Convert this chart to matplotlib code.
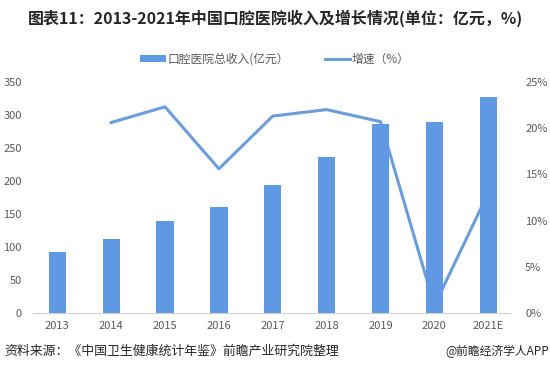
import numpy as np
import matplotlib.pyplot as plt

plt.rcParams['font.family'] = ['Noto Sans CJK SC', 'DejaVu Sans']

years = ['2013', '2014', '2015', '2016', '2017', '2018', '2019', '2020', '2021E']
revenue = [92, 112, 139, 161, 194, 236, 286, 289, 327]
growth_years = years[1:]
growth = [20.6, 22.3, 15.6, 21.3, 22.0, 20.7, 0.8, 13.0]

bar_color = '#5f98e3'
line_color = '#6c9ddb'
tick_color = '#595959'

fig = plt.figure(figsize=(5.5, 3.79), dpi=100)
ax = fig.add_axes([0.06, 0.174, 0.867, 0.61])
ax2 = ax.twinx()

x = np.arange(len(years))
ax.bar(x, revenue, width=0.32, color=bar_color, zorder=2, label='口腔医院总收入(亿元）')
gx = x[1:]
ax2.plot(gx, growth, color=line_color, lw=2.2, label='增速（%）', zorder=1)
ax.set_zorder(ax2.get_zorder() + 1)
ax.patch.set_visible(False)

ax.set_xlim(-0.45, 8.4)
ax.set_ylim(0, 350)
ax.set_yticks(np.arange(0, 351, 50))
ax2.set_ylim(0, 25)
ax2.set_yticks(np.arange(0, 26, 5))
ax2.set_yticklabels([f'{v}%' for v in range(0, 26, 5)])
ax.set_xticks(x)
ax.set_xticklabels(years)

for a in (ax, ax2):
    for s in a.spines.values():
        s.set_visible(False)
    a.tick_params(length=0, colors=tick_color, labelsize=8)
ax.spines['bottom'].set_visible(True)
ax.spines['bottom'].set_color('#d0d0d0')
ax.tick_params(axis='y', pad=8)
ax.tick_params(axis='x', pad=6)
ax2.tick_params(axis='y', pad=11)

h1, l1 = ax.get_legend_handles_labels()
h2, l2 = ax2.get_legend_handles_labels()
fig.legend(h1 + h2, l1 + l2, loc='center', bbox_to_anchor=(0.5, 0.843), ncol=2,
           frameon=False, fontsize=8.5, handlelength=2.2, handleheight=0.5,
           columnspacing=3.0, handletextpad=0.1, labelcolor=tick_color)

fig.text(0.5, 0.953, '图表11：2013-2021年中国口腔医院收入及增长情况(单位：亿元，%)',
         ha='center', va='center', fontsize=11.5, fontweight='bold', color='#262626')
fig.text(0.008, 0.072, '资料来源：《中国卫生健康统计年鉴》前瞻产业研究院整理',
         ha='left', va='center', fontsize=9.3, color='#262626')
fig.text(0.998, 0.072, '@前瞻经济学人APP',
         ha='right', va='center', fontsize=8.5, color='#262626')

fig.savefig('out.png', dpi=100)
